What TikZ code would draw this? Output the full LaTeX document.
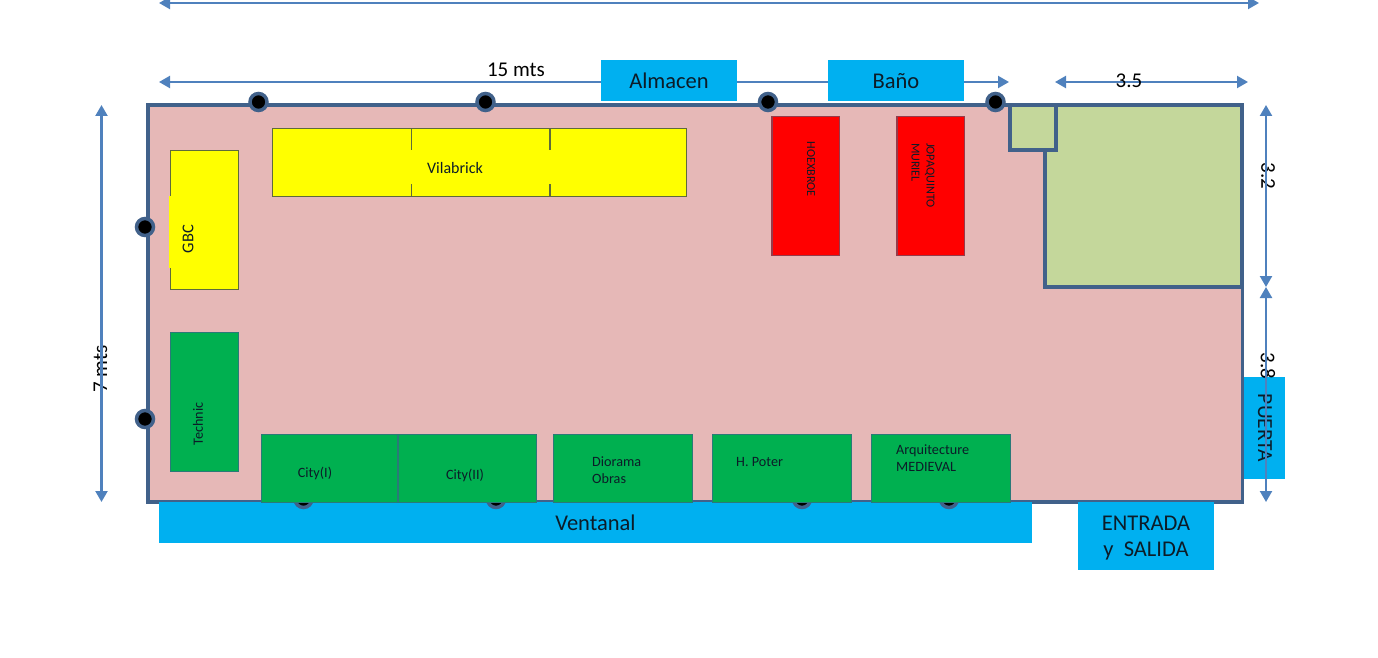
\documentclass[tikz,border=0pt]{standalone}
\usepackage{fontspec}
\setmainfont{Carlito}
\usetikzlibrary{arrows.meta}
\definecolor{wallc}{HTML}{41618A}
\definecolor{pinkc}{HTML}{E6B8B7}
\definecolor{olivec}{HTML}{C4D79B}
\definecolor{dimc}{HTML}{4F81BD}
\definecolor{skyc}{HTML}{00B0F0}
\definecolor{grnc}{HTML}{00B050}
\definecolor{redc}{HTML}{FF0000}
\definecolor{yelc}{HTML}{FFFF00}
\definecolor{yeledge}{HTML}{5F6B3A}
\definecolor{rededge}{HTML}{953B4A}
\definecolor{grnedge}{HTML}{2A7A78}
\definecolor{inkc}{HTML}{0C1C28}
\tikzset{
  x=1pt,y=-1pt,
  wall/.style={draw=wallc,line width=3.5pt,line join=miter},
  dimline/.style={draw=dimc,line width=2.2pt,{Triangle[length=11pt,width=12pt]}-{Triangle[length=11pt,width=12pt]}},
  dimtext/.style={font=\fontsize{21}{24}\selectfont,text=black,inner sep=0pt},
  skybox/.style={fill=skyc,draw=none,inner sep=0pt,font=\fontsize{22.5}{26}\selectfont,text=inkc,align=center},
  yelbox/.style={fill=yelc,draw=yeledge,line width=1pt,inner sep=0pt},
  grnbox/.style={fill=grnc,draw=grnedge,line width=1pt,inner sep=0pt},
  redbox/.style={fill=redc,draw=rededge,line width=1.5pt,inner sep=0pt},
  small/.style={font=\fontsize{16}{18}\selectfont,text=inkc,inner sep=0pt,align=left},
  lowtext/.style={font=\fontsize{14.2}{16.5}\selectfont,text=inkc,inner sep=0pt,align=left},
  tiny/.style={font=\fontsize{12.2}{15}\selectfont,text=inkc,inner sep=0pt,align=left},
  pillar/.style={circle,fill=black,draw=wallc,line width=3.5pt,minimum size=17pt,inner sep=0pt},
}
\begin{document}
\begin{tikzpicture}
\useasboundingbox (0,0) rectangle (1378,658);
% dimension end points
\coordinate (topL) at (159,3); \coordinate (topR) at (1259,3);
\coordinate (lenL) at (159,82); \coordinate (lenR) at (1009,82);
\coordinate (wL) at (1055,82); \coordinate (wR) at (1248,82);
\coordinate (hT) at (101.5,105); \coordinate (hB) at (101.5,502);
\coordinate (aT) at (1266,105); \coordinate (aM) at (1266,287); \coordinate (bB) at (1266,502);
% room
\path[fill=pinkc] (148,105) rectangle (1242.5,502);
\draw[wall,fill=olivec] (1045,150) -- (1045,287) -- (1242,287) -- (1242,105) -- (1010,105) -- (1010,150) -- cycle;
\draw[wall] (1056,105) -- (1056,150) -- (1010,150);
\draw[wall] (148,105) rectangle (1242.5,502);
% top dimensions
\draw[dimline] (topL) -- (topR);
\draw[dimline] (lenL) -- (lenR);
\node[dimtext] (lenT) at (516,70) {15 mts};
\node[skybox,minimum width=136pt,minimum height=41pt] (almacen) at (669,80.5) {\vphantom{l}Almacen};
\node[skybox,minimum width=136pt,minimum height=41pt] (bano) at (896,80.5) {\vphantom{l}Baño};
\draw[dimline] (wL) -- (wR);
\node[dimtext] (wT) at (1129,81) {3.5};
% side dimensions
\node[dimtext,rotate=90] (hT2) at (100.5,369) {7 mts};
\draw[dimline] (hT) -- (hB);
\node[skybox,minimum width=41pt,minimum height=102pt] (puertaBox) at (1264.5,428) {};
\node[skybox,rotate=-90,font=\fontsize{21.5}{24}\selectfont] (puerta) at (1265,428) {PUERTA};
\node[dimtext,rotate=-90] (aText) at (1268,176) {3.2};
\node[dimtext,rotate=-90] (bText) at (1268,366) {3.8};
\draw[dimline] (aT) -- (aM);
\draw[dimline] (aM) -- (bB);
% windows and exit
\node[skybox,minimum width=873pt,minimum height=41pt] (ventanal) at (595.5,522.5) {Ventanal};
\node[skybox,minimum width=136pt,minimum height=68pt] (entradaBox) at (1146,536) {};
\node[skybox] (entrada) at (1146,538.5) {ENTRADA\\y\ \ SALIDA};
% pillars
\foreach \n/\x/\y in {p1/258.5/102,p2/485.5/102,p3/768/102,p4/995.5/102,p5/145/227,p6/145/419,p7/303.5/499,p8/496/499,p9/802/499,p10/949/499}
  \node[pillar] (\n) at (\x,\y) {};
% yellow
\node[yelbox,minimum width=68pt,minimum height=139pt] (gbc) at (204.5,220) {};
\path[fill=yelc] (169,196) rectangle (185,268);
\node[small,rotate=90,font=\fontsize{16.5}{18}\selectfont] (gbcT) at (188,239) {GBC};
\node[yelbox,minimum width=138.5pt,minimum height=67.5pt] (v1) at (342,162.25) {};
\node[yelbox,minimum width=138.5pt,minimum height=67.5pt] (v2) at (480.5,162.25) {};
\node[yelbox,minimum width=136.5pt,minimum height=67.5pt] (v3) at (618.5,162.25) {};
\path[fill=yelc] (405,150) rectangle (556,184);
\node[small] (vT) at (455,168) {Vilabrick};
% red
\node[redbox,minimum width=67.5pt,minimum height=138.5pt] (r1) at (805.5,186) {};
\node[redbox,minimum width=67.5pt,minimum height=138.5pt] (r2) at (930.5,186) {};
\node[tiny,rotate=-90] (r1T) at (811,169) {HOEXBROE};
\node[tiny,rotate=-90] (r2T) at (923,175.5) {JOPAQUINTO\\MURIEL};
% green
\node[grnbox,minimum width=68pt,minimum height=139pt] (technic) at (204.5,402) {};
\node[lowtext,rotate=90] (technicT) at (198,424) {Technic};
\node[grnbox,minimum width=136.5pt,minimum height=67.5pt] (c1) at (329.5,468.25) {};
\node[grnbox,minimum width=138.5pt,minimum height=67.5pt] (c2) at (467.5,468.25) {};
\node[grnbox,minimum width=139.5pt,minimum height=67.5pt] (c3) at (623,468.25) {};
\node[grnbox,minimum width=139.5pt,minimum height=67.5pt] (c4) at (782,468.25) {};
\node[grnbox,minimum width=139.5pt,minimum height=67.5pt] (c5) at (941,468.25) {};
\node[lowtext] (c1T) at (315,473) {City(I)};
\node[lowtext] (c2T) at (465,475) {City(II)};
\node[lowtext,anchor=west] (c3T) at (592,470) {Diorama\\Obras};
\node[lowtext,anchor=west] (c4T) at (736,462) {H. Poter};
\node[lowtext,anchor=west] (c5T) at (896,458) {Arquitecture\\MEDIEVAL};
\end{tikzpicture}
\end{document}
